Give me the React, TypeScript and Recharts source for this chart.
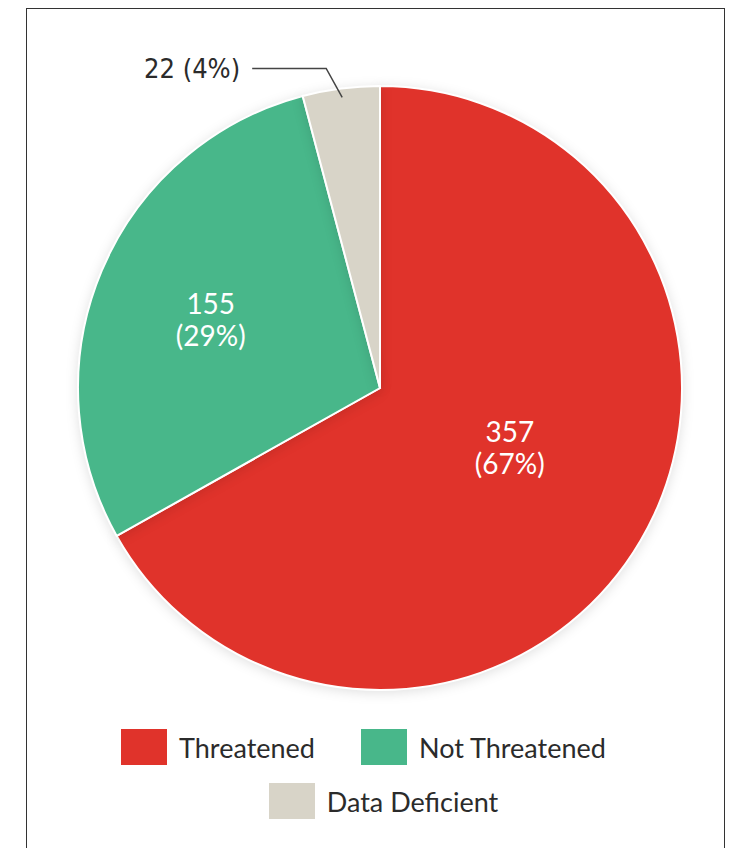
import { PieChart, Pie, Cell, Legend } from 'recharts';

const CATEGORIES = ['Threatened', 'Not Threatened', 'Data Deficient'];
const COUNTS = [357, 155, 22];
const PERCENTS = [67, 29, 4];

const COLORS = ['#e0332b', '#48b78a', '#d8d4c8'];

// where the inside labels sit (fraction of radius, angle nudge in degrees)
const LABEL_POS = [
  { r: 0.478, da: 4.4 },
  { r: 0.6, da: 2 },
];

const RAD = Math.PI / 180;

const data = CATEGORIES.map((name, i) => ({ name, value: COUNTS[i], pct: PERCENTS[i] }));

function renderLabel(props: any) {
  const { cx, cy, midAngle, outerRadius, index } = props;
  const d = data[index];
  if (index < 2) {
    const p = LABEL_POS[index];
    const a = (midAngle + p.da) * RAD;
    const x = cx + outerRadius * p.r * Math.cos(a);
    const y = cy - outerRadius * p.r * Math.sin(a);
    return (
      <text x={x} y={y} textAnchor="middle" fill="#fff" fontFamily="Lato, 'Open Sans', sans-serif" fontSize={28}>
        <tspan x={x} dy={-9}>{d.value}</tspan>
        <tspan x={x} dy={32}>({d.pct}%)</tspan>
      </text>
    );
  }
  const a = midAngle * RAD;
  const sx = cx + (outerRadius - 9) * Math.cos(a);
  const sy = cy - (outerRadius - 9) * Math.sin(a);
  const ex = sx - 16;
  const ey = sy - 29;
  const tx = ex - 74;
  return (
    <g>
      <polyline points={`${sx},${sy} ${ex},${ey} ${tx},${ey}`} fill="none" stroke="#444" strokeWidth={1.5} />
      <text x={tx - 12} y={ey + 10} textAnchor="end" fill="#2b2b2b" fontFamily="'DejaVu Sans Condensed', 'DejaVu Sans', sans-serif" fontSize={27}>
        {d.value} ({d.pct}%)
      </text>
    </g>
  );
}

function renderLegend() {
  const item = (name: string, i: number) => (
    <div key={i} style={{ display: 'flex', alignItems: 'center', marginLeft: i === 1 ? 46 : 0 }}>
      <div style={{ width: 46, height: 36, background: COLORS[i] }} />
      <span style={{ marginLeft: 12, fontSize: 27, color: '#2b2b2b', fontFamily: 'Lato, sans-serif' }}>{name}</span>
    </div>
  );
  return (
    <div>
      <div style={{ display: 'flex', justifyContent: 'center', height: 54, paddingRight: 4 }}>
        {CATEGORIES.slice(0, 2).map((n, i) => item(n, i))}
      </div>
      <div style={{ display: 'flex', justifyContent: 'center', height: 54, paddingLeft: 36 }}>
        {CATEGORIES.slice(2).map((n, i) => item(n, i + 2))}
      </div>
    </div>
  );
}

export default function App() {
  return (
    <div style={{ position: 'absolute', left: 0, top: 0, width: 731, height: 848, overflow: 'hidden', background: '#fff' }}>
      <style>{`.recharts-pie-sector { filter: drop-shadow(0 2px 6px rgba(0,0,0,0.12)); }`}</style>
      <div
        style={{
          position: 'absolute',
          left: 26,
          top: 8,
          width: 697,
          height: 900,
          border: '1.5px solid #333',
        }}
      />
      <div style={{ position: 'absolute', left: 0, top: 0 }}>
        <PieChart width={731} height={848} margin={{ top: 0, right: 0, bottom: 0, left: 0 }}>
          <Pie
            data={data}
            dataKey="value"
            nameKey="name"
            cx={380}
            cy={388}
            outerRadius={302}
            startAngle={90}
            endAngle={-270}
            stroke="#fff"
            strokeWidth={2}
            label={renderLabel}
            labelLine={false}
            isAnimationActive={false}
          >
            {data.map((_, i) => (
              <Cell key={i} fill={COLORS[i]} />
            ))}
          </Pie>
          <Legend
            content={renderLegend}
            wrapperStyle={{ position: 'absolute', top: 720, left: 0, width: 731 }}
          />
        </PieChart>
      </div>
    </div>
  );
}
